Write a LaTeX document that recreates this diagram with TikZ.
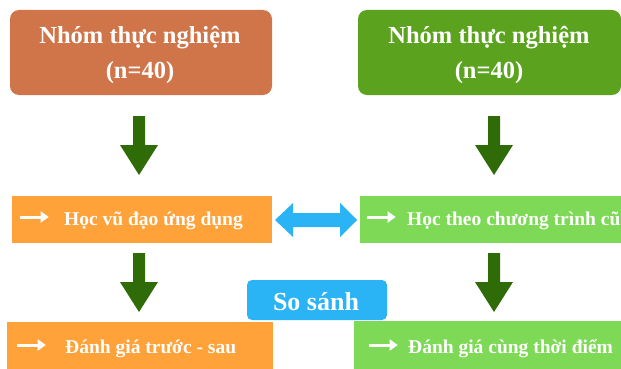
\documentclass[tikz,border=0pt]{standalone}
\usepackage{fontspec}
\setmainfont{Liberation Serif}
\usetikzlibrary{arrows.meta}
\definecolor{topL}{HTML}{CF7549}
\definecolor{topR}{HTML}{5BA21E}
\definecolor{midL}{HTML}{FFA23A}
\definecolor{midR}{HTML}{7ED957}
\definecolor{dgreen}{HTML}{2F6B07}
\definecolor{sky}{HTML}{2AB3F5}
\tikzset{
  titlebox/.style={text=white, font=\bfseries\fontsize{24.5}{35}\selectfont, align=center, inner sep=0pt, anchor=base},
  rowtext/.style={text=white, font=\bfseries\fontsize{19.5}{24}\selectfont, inner sep=0pt, anchor=base west},
}
\newcommand{\arr}[1]{\raisebox{8pt}{\tikz[x=1pt,y=1pt,baseline=0pt]\draw[white, line width=3pt, -{Triangle[length=8pt,width=11pt]}] (0,0)--(29,0);}\hspace{#1pt}}
\begin{document}
\begin{tikzpicture}[x=1pt,y=-1pt]
\useasboundingbox (0,0) rectangle (621,369);
% top boxes
\fill[topL, rounded corners=9pt] (10,10) rectangle (272,95);
\node[titlebox] (tl) at (140,78) {Nhóm thực nghiệm\\(n=40)};
\fill[topR, rounded corners=9pt] (358,10) rectangle (621,95);
\node[titlebox] (tr) at (489,78) {Nhóm thực nghiệm\\(n=40)};
% row 2
\fill[midL] (12,196) rectangle (272,243);
\node[rowtext] (ml) at (18,225) {\arr{14}Học vũ đạo ứng dụng};
\fill[midR] (360,196) rectangle (621,243);
\node[rowtext] (mr) at (365,225) {\arr{10}Học theo chương trình cũ};
% row 3
\fill[midL] (7,322) rectangle (273,369);
\node[rowtext] (bl) at (15,353) {\arr{18}Đánh giá trước - sau};
\fill[midR] (354,321) rectangle (621,369);
\node[rowtext] (br) at (367,353) {\arr{9}Đánh giá cùng thời điểm};
% So sanh
\fill[sky, rounded corners=5pt] (247,280) rectangle (387,320);
\node[text=white, font=\bfseries\fontsize{26}{28}\selectfont, anchor=base, inner sep=0pt] (ss) at (316,310) {So sánh};
% down arrows
\foreach \cx/\ya/\yb in {139/116/175, 494/116/175, 139/253/312, 494/253/312}{
  \fill[dgreen] (\cx-6,\ya) -- (\cx+6,\ya) -- (\cx+6,\yb-30) -- (\cx+19,\yb-30) -- (\cx,\yb) -- (\cx-19,\yb-30) -- (\cx-6,\yb-30) -- cycle;
}
% double arrow
\fill[sky] (275,220) -- (293,203) -- (293,213) -- (340,213) -- (340,203) -- (357,220) -- (340,237) -- (340,227) -- (293,227) -- (293,237) -- cycle;
\end{tikzpicture}
\end{document}
